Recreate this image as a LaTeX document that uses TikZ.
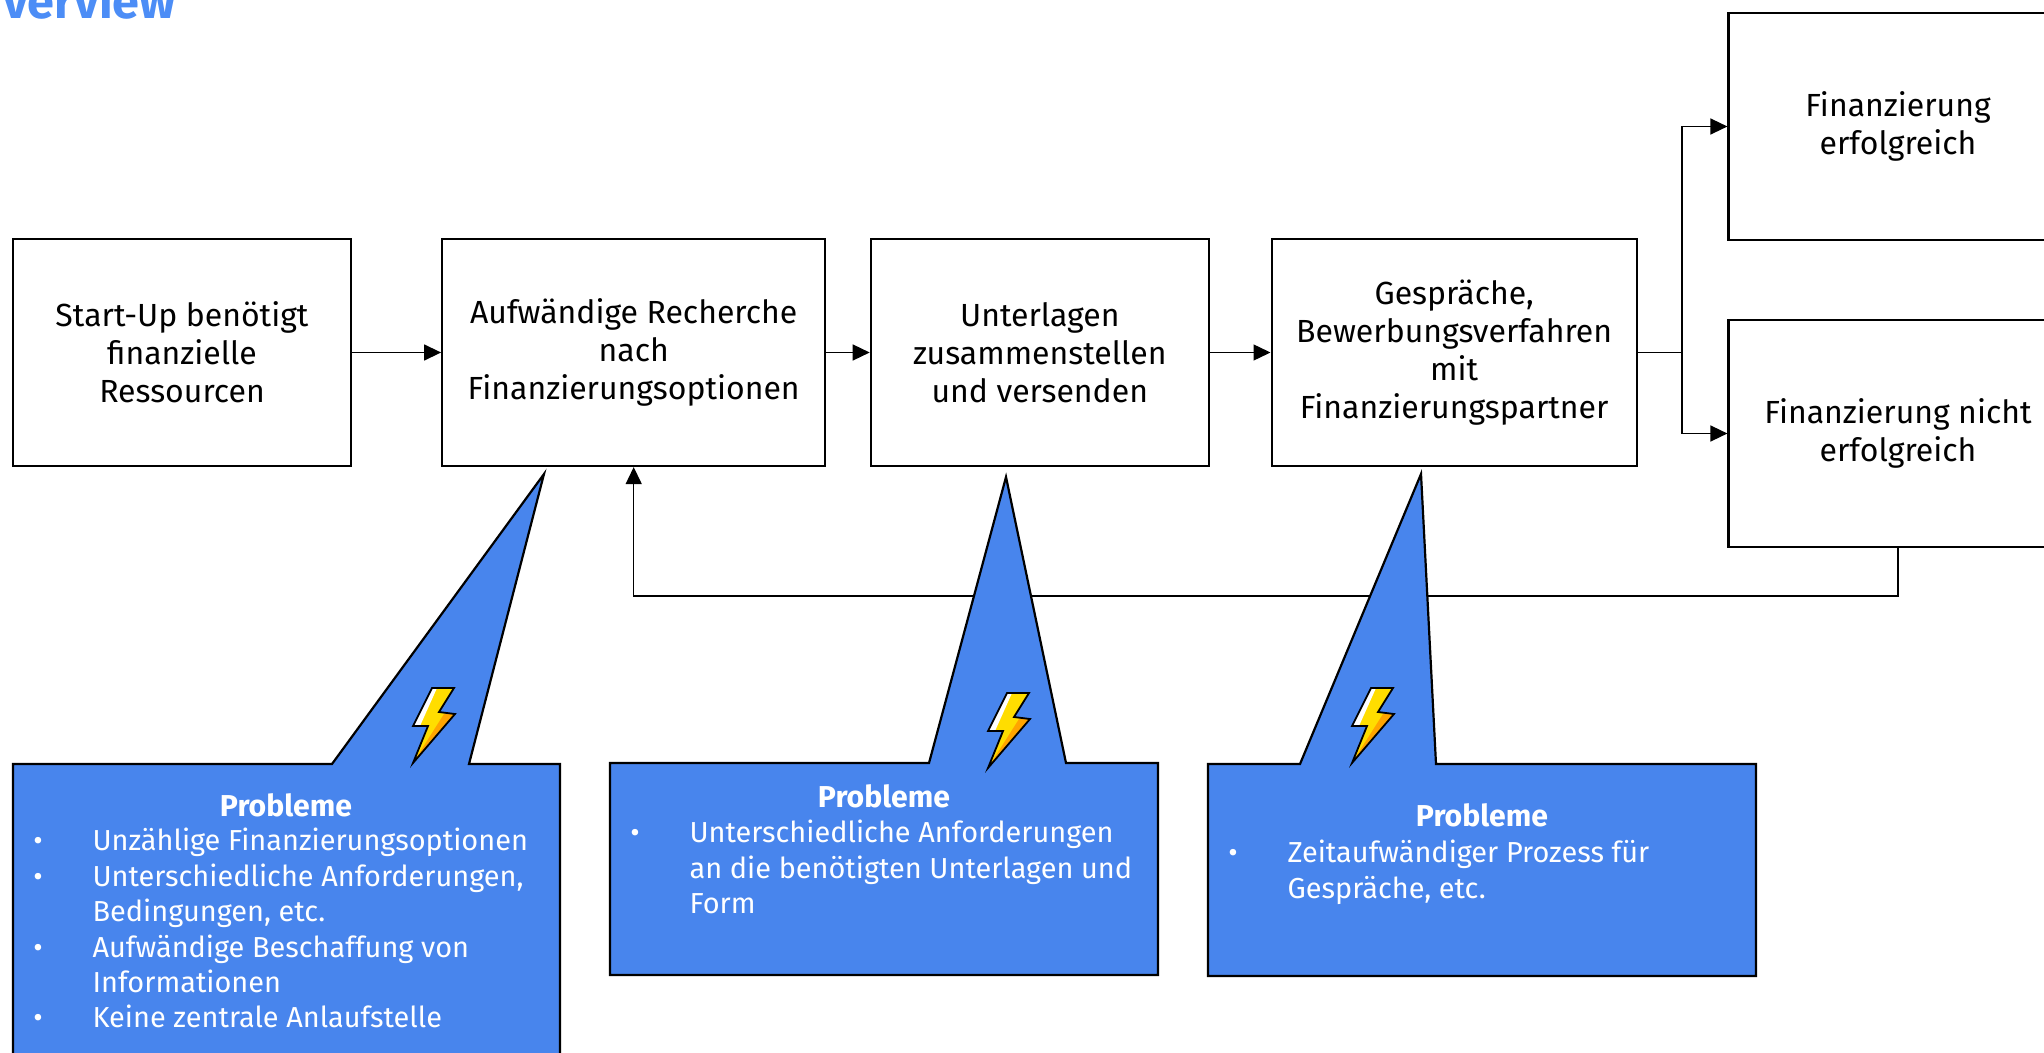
\documentclass[tikz,border=0pt]{standalone}
\usepackage{xcolor}
\usepackage{fontspec}
\setmainfont{Fira Sans}
\usetikzlibrary{positioning,arrows.meta}
\definecolor{problemblue}{HTML}{4885ED}
\definecolor{titleblue}{HTML}{4C8DF6}
\definecolor{boltyellow}{HTML}{FFDD00}
\definecolor{boltorange}{HTML}{FFA500}
\newcommand{\probitem}[1]{\makebox[29.6pt][l]{\textbullet}#1}
\newcommand{\probnext}[1]{\hspace*{29.6pt}#1}

\begin{document}
\begin{tikzpicture}[x=0.5pt,y=-0.5pt]
    \tikzstyle{procbox}=[draw=black,line width=1.1pt,fill=white,minimum height=113.5pt,align=center,inner sep=0pt,
        font=\fontsize{16}{19}\selectfont]
    \tikzstyle{flow}=[line width=0.7pt,-{Triangle[length=8.5pt,width=8pt]}]
    \tikzstyle{problembox}=[draw=black,line width=1.1pt,fill=problemblue,line join=miter]
    \tikzstyle{probtitle}=[text=white,font=\fontsize{15.1}{17.7}\selectfont\bfseries]
    \tikzstyle{problist}=[text=white,anchor=north west,align=left,inner sep=0pt,font=\fontsize{14.45}{17.7}\selectfont]
    \tikzset{bolt/.pic={
        \fill[boltyellow] (19,-75) -- (41,-75) -- (26,-51) -- (42,-49) -- (0,0) -- (15,-37) -- (0,-37) -- cycle;
        \fill[white] (0,-37) -- (19,-75) -- (24,-75) -- (7,-37) -- cycle;
        \fill[boltorange] (42,-49) -- (31,-49) -- (5,-8) -- (0,0) -- cycle;
        \draw[line width=0.9pt] (19,-75) -- (41,-75) -- (26,-51) -- (42,-49) -- (0,0) -- (15,-37) -- (0,-37) -- cycle;
    }}

    \useasboundingbox (0,0) rectangle (2044,1053);
    \clip (0,0) rectangle (2044,1053);

    \node[text=titleblue,anchor=base west,inner sep=0pt,font=\fontsize{24.3}{28}\selectfont\bfseries] (title) at (3,19) {verview};

    \node[procbox,minimum width=169pt] (start) at (182,352.5) {Start-Up benötigt\\finanzielle\\Ressourcen};
    \node[procbox,minimum width=191.5pt,right=44.5pt of start] (recherche) {Aufwändige Recherche\\nach\\Finanzierungsoptionen};
    \node[procbox,minimum width=169pt,right=21.7pt of recherche] (unterlagen) {Unterlagen\\zusammenstellen\\und versenden};
    \node[procbox,minimum width=182.5pt,right=30.3pt of unterlagen] (gespraeche) {Gespräche,\\Bewerbungsverfahren\\mit\\Finanzierungspartner};
    \node[procbox,minimum width=169.5pt] (erfolg) at (1898,126.5) {Finanzierung\\erfolgreich};
    \node[procbox,minimum width=169.5pt] (misserfolg) at (1898,433.5) {Finanzierung nicht\\erfolgreich};

    \coordinate (split) at (1682,352.5);
    \coordinate (back) at (1898,596);

    \draw[flow] (start) -- (recherche);
    \draw[flow] (recherche) -- (unterlagen);
    \draw[flow] (unterlagen) -- (gespraeche);
    \draw[line width=0.7pt] (gespraeche) -- (split);
    \draw[flow] (split) |- (erfolg);
    \draw[flow] (split) |- (misserfolg);
    \draw[flow] (misserfolg.south) -- (back) -| (recherche.south);

    % problem callouts
    \draw[problembox] (13,764) -- (332,764) -- (544,474) -- (469,764) -- (560,764) -- (560,1075) -- (13,1075) -- cycle;
    \draw[problembox] (610,763) -- (929,763) -- (1006,477) -- (1066,763) -- (1158,763) -- (1158,975) -- (610,975) -- cycle;
    \draw[problembox] (1208,764) -- (1300,764) -- (1421,474) -- (1436,764) -- (1756,764) -- (1756,976) -- (1208,976) -- cycle;

    \pic at (413,763) {bolt};
    \pic at (988,768) {bolt};
    \pic at (1352,763) {bolt};

    \node[probtitle] (title1) at (286,805) {Probleme};
    \node[problist] (list1) at (33,828) {\probitem{Unzählige Finanzierungsoptionen}\\
        \probitem{Unterschiedliche Anforderungen,}\\
        \probnext{Bedingungen, etc.}\\
        \probitem{Aufwändige Beschaffung von}\\
        \probnext{Informationen}\\
        \probitem{Keine zentrale Anlaufstelle}};

    \node[probtitle] (title2) at (884,796) {Probleme};
    \node[problist] (list2) at (630,820) {\probitem{Unterschiedliche Anforderungen}\\
        \probnext{an die benötigten Unterlagen und}\\
        \probnext{Form}};

    \node[probtitle] (title3) at (1482,815) {Probleme};
    \node[problist] (list3) at (1228,840) {\probitem{Zeitaufwändiger Prozess für}\\
        \probnext{Gespräche, etc.}};
\end{tikzpicture}
\end{document}
